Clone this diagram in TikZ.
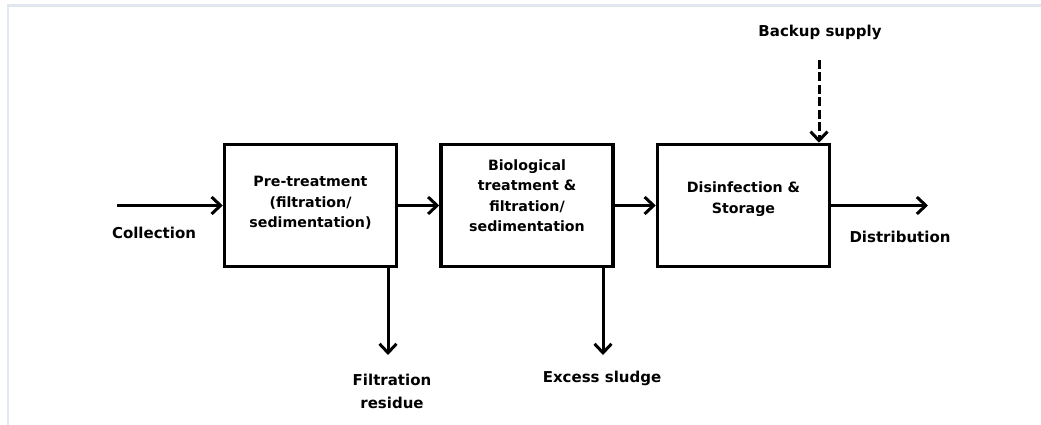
\documentclass[tikz,border=0pt]{standalone}
\usepackage{fontspec}
\setmainfont{DejaVu Sans}
\usetikzlibrary{arrows.meta,positioning}
\definecolor{framegray}{RGB}{225,231,238}

\begin{document}
\begin{tikzpicture}[x=1pt,y=-1pt,>={Straight Barb[length=9pt,width=17pt]},
 node distance=41pt,
 every node/.style={font=\fontsize{14.2}{20.5}\selectfont\bfseries},
 stage/.style={draw,line width=3.5pt,minimum width=172pt,minimum height=122pt,
  align=center,inner sep=4pt},
 lbl/.style={align=center,inner sep=0pt,font=\fontsize{15}{23}\selectfont\bfseries},
 flow/.style={->,line width=3pt},
 backup/.style={->,line width=3pt,dash pattern=on 9pt off 3.5pt}]
\useasboundingbox (0,0) rectangle (1041,425);
\draw[framegray,line width=2.5pt] (1041,5.5) -| (8,425);
\node[stage,text depth=7pt] (pre) at (310.5,205.5) {Pre-treatment\\(filtration/\\sedimentation)};
\node[stage,right=of pre,text depth=20pt] (bio) {Biological\\treatment \&\\filtration/\\sedimentation};
\node[stage,right=of bio,text depth=16pt] (store) {Disinfection \&\\Storage};
\coordinate (collect) at (117,205.5);
\coordinate (resout) at (388,355);
\coordinate (sludgeout) at (603,355);
\coordinate (distout) at (928,205.5);
\coordinate (backin) at (819,60);
\node[lbl] (collection) at (154,233) {Collection};
\node[lbl] (residue) at (392,391.5) {Filtration\\residue};
\node[lbl] (sludge) at (602,378) {Excess sludge};
\node[lbl] (distribution) at (900,237) {Distribution};
\node[lbl] (supply) at (820,32) {Backup supply};
\draw[flow] (collect) -- (pre);
\draw[flow] (pre) -- (bio);
\draw[flow] (bio) -- (store);
\draw[flow] (store) -- (distout);
\draw[flow] (pre.south -| resout) -- (resout);
\draw[flow] (bio.south -| sludgeout) -- (sludgeout);
\draw[backup] (backin) -- (store.north -| backin);
\end{tikzpicture}
\end{document}
